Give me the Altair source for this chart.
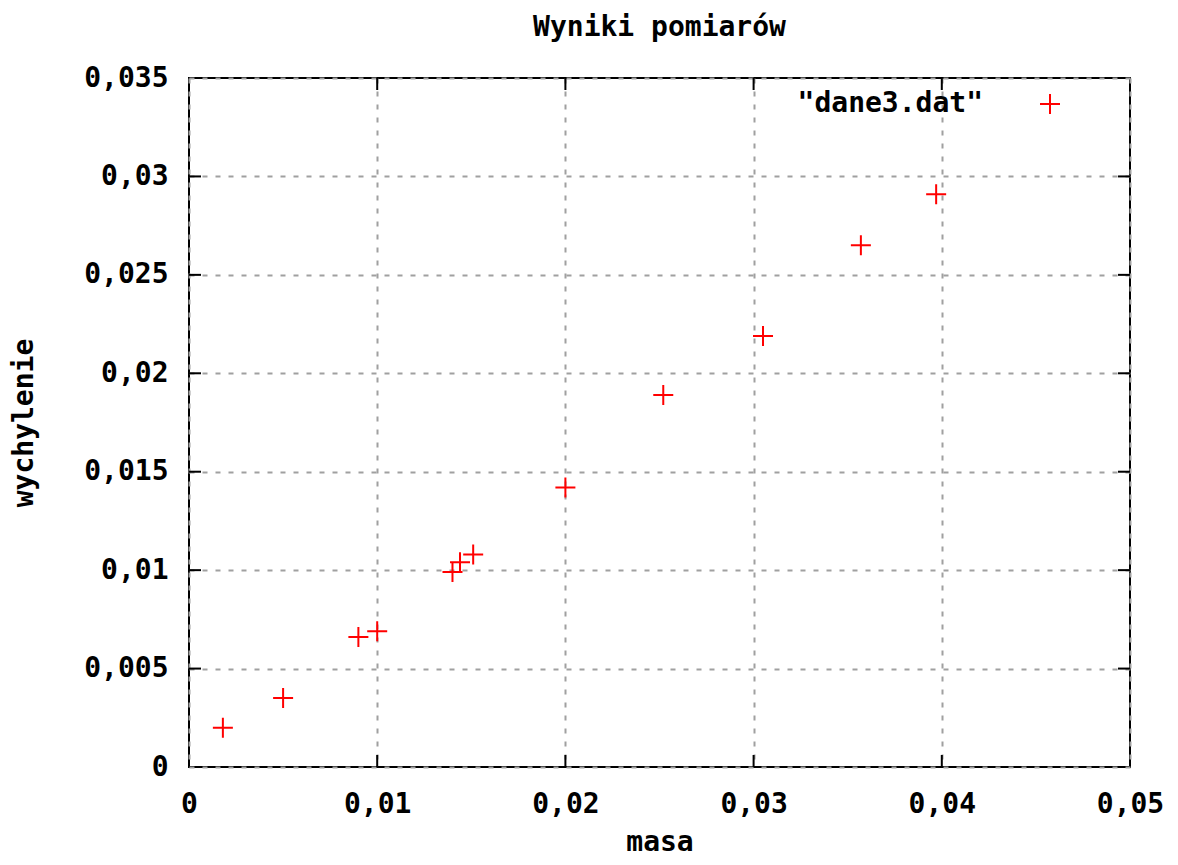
import altair as alt
import pandas as pd

masa = [0.0018, 0.0050, 0.0090, 0.0100, 0.0140, 0.0144, 0.0151, 0.0200, 0.0252, 0.0305, 0.0357, 0.0397]
wychylenie = [0.0020, 0.0035, 0.0066, 0.0069, 0.0099, 0.0104, 0.0108, 0.0142, 0.0189, 0.0219, 0.0265, 0.0291]
x_ticks = [0, 0.01, 0.02, 0.03, 0.04, 0.05]
y_ticks = [0, 0.005, 0.01, 0.015, 0.02, 0.025, 0.03, 0.035]
series_name = '"dane3.dat"'
chart_title = "Wyniki pomiarów"

W, H = 941, 689
FONT = "DejaVu Sans Mono"
FS = 28
PLUS = "M-1,0L1,0M0,-1L0,1"
LABEL_EXPR = "replace(format(datum.value, '~g'), '.', ',')"

df = pd.DataFrame({"masa": masa, "wychylenie": wychylenie})
xt = pd.DataFrame({"masa": x_ticks[1:-1]})
yt = pd.DataFrame({"wychylenie": y_ticks[1:-1]})
leg = pd.DataFrame({"name": [series_name]})
ttl = pd.DataFrame({"t": [chart_title]})

xs = alt.Scale(domain=[0, 0.05], nice=False, zero=False)
ys = alt.Scale(domain=[0, 0.035], nice=False, zero=False)

x_axis = alt.Axis(values=x_ticks, labelExpr=LABEL_EXPR, domain=False, ticks=False,
                  grid=True, gridDash=[5, 8], gridColor="#a0a0a0", gridWidth=2,
                  labelPadding=23, labelFont=FONT, labelFontSize=FS, labelFontWeight="bold",
                  labelColor="black", labelFlush=False,
                  titleFont=FONT, titleFontSize=FS, titleFontWeight="bold", titleColor="black",
                  titleX=W / 2, titleY=75, titleBaseline="middle", titleAlign="center")
y_axis = alt.Axis(values=y_ticks, labelExpr=LABEL_EXPR, domain=False, ticks=False,
                  grid=True, gridDash=[5, 8], gridColor="#a0a0a0", gridWidth=2,
                  labelPadding=21, labelFont=FONT, labelFontSize=FS, labelFontWeight="bold",
                  labelColor="black", labelFlush=False, labelBaseline="middle",
                  titleFont=FONT, titleFontSize=FS, titleFontWeight="bold", titleColor="black",
                  titleX=-165, titleY=H / 2, titleBaseline="middle", titleAlign="center",
                  titleAngle=270)


def X():
    return alt.X("masa:Q", scale=xs, title="masa", axis=x_axis)


def Y():
    return alt.Y("wychylenie:Q", scale=ys, title="wychylenie", axis=y_axis)


points = alt.Chart(df).mark_point(shape=PLUS, size=400, color="red", strokeWidth=2,
                                  filled=False, opacity=1).encode(x=X(), y=Y())

xtick_b = alt.Chart(xt).mark_rule(color="black", strokeWidth=2).encode(
    x=X(), y=alt.value(H), y2=alt.value(H - 12))
xtick_t = alt.Chart(xt).mark_rule(color="black", strokeWidth=2).encode(
    x=X(), y=alt.value(0), y2=alt.value(12))
ytick_l = alt.Chart(yt).mark_rule(color="black", strokeWidth=2).encode(
    y=Y(), x=alt.value(0), x2=alt.value(12))
ytick_r = alt.Chart(yt).mark_rule(color="black", strokeWidth=2).encode(
    y=Y(), x=alt.value(W), x2=alt.value(W - 12))

leg_text = alt.Chart(leg).mark_text(font=FONT, fontSize=FS, fontWeight="bold", color="black",
                                    align="right", baseline="middle").encode(
    text="name:N", x=alt.value(794), y=alt.value(26))
leg_sym = alt.Chart(leg).mark_point(shape=PLUS, size=400, color="red", strokeWidth=2,
                                    filled=False, opacity=1).encode(
    x=alt.value(861), y=alt.value(26))
title_text = alt.Chart(ttl).mark_text(font=FONT, fontSize=FS, fontWeight="bold", color="black",
                                      align="center", baseline="middle").encode(
    text="t:N", x=alt.value(W / 2), y=alt.value(-50))

chart = alt.layer(points, xtick_b, xtick_t, ytick_l, ytick_r, leg_text, leg_sym,
                  title_text).properties(
    width=W, height=H,
    autosize=alt.AutoSizeParams(type="none"),
    padding={"left": 181, "top": 70, "right": 38, "bottom": 90},
).configure(background="white", view=alt.ViewConfig(stroke="black", strokeWidth=2))

chart.save("out.html", embed_options={"renderer": "svg", "actions": False})
